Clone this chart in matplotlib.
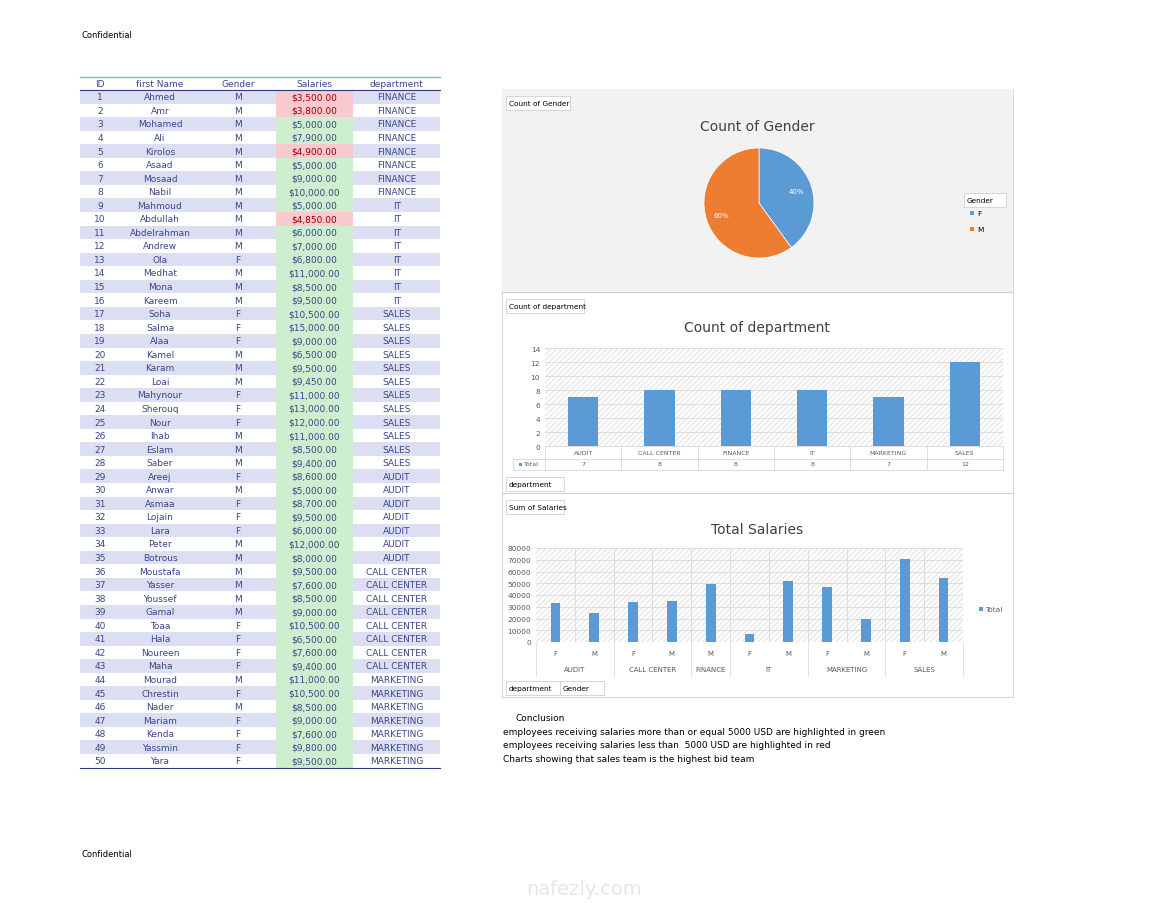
import numpy as np
import matplotlib
matplotlib.use("Agg")
import matplotlib.pyplot as plt
from matplotlib.patches import Rectangle

W, H = 1170, 904

names = ["Ahmed", "Amr", "Mohamed", "Ali", "Kirolos", "Asaad", "Mosaad", "Nabil", "Mahmoud", "Abdullah",
         "Abdelrahman", "Andrew", "Ola", "Medhat", "Mona", "Kareem", "Soha", "Salma", "Alaa", "Kamel",
         "Karam", "Loai", "Mahynour", "Sherouq", "Nour", "Ihab", "Eslam", "Saber", "Areej", "Anwar",
         "Asmaa", "Lojain", "Lara", "Peter", "Botrous", "Moustafa", "Yasser", "Youssef", "Gamal", "Toaa",
         "Hala", "Noureen", "Maha", "Mourad", "Chrestin", "Nader", "Mariam", "Kenda", "Yassmin", "Yara"]
genders = list("MMMMMMMMMMMMFMMMFFFMMMFFFMMMFMFFFMMMMMMFFFFMFMFFFF")
salaries = [3500, 3800, 5000, 7900, 4900, 5000, 9000, 10000, 5000, 4850,
            6000, 7000, 6800, 11000, 8500, 9500, 10500, 15000, 9000, 6500,
            9500, 9450, 11000, 13000, 12000, 11000, 8500, 9400, 8600, 5000,
            8700, 9500, 6000, 12000, 8000, 9500, 7600, 8500, 9000, 10500,
            6500, 7600, 9400, 11000, 10500, 8500, 9000, 7600, 9800, 9500]
departments = ["FINANCE"] * 8 + ["IT"] * 8 + ["SALES"] * 12 + ["AUDIT"] * 7 + ["CALL CENTER"] * 8 + ["MARKETING"] * 7

dept_names = ["AUDIT", "CALL CENTER", "FINANCE", "IT", "MARKETING", "SALES"]
dept_counts = [7, 8, 8, 8, 7, 12]

# sum of salaries by department / gender (pivot)
pivot = []
for d in dept_names:
    for g in ["F", "M"]:
        s = sum(v for v, dd, gg in zip(salaries, departments, genders) if dd == d and gg == g)
        if s > 0:
            pivot.append((d, g, s))

gender_counts = [genders.count("F"), genders.count("M")]

blue = "#5B9BD5"
orange = "#ED7D31"
navy = "#3A4788"

fig = plt.figure(figsize=(W / 100, H / 100), dpi=100)
fig.patch.set_facecolor("white")

page = fig.add_axes([0, 0, 1, 1])
page.set_xlim(0, W)
page.set_ylim(H, 0)
page.axis("off")

page.text(82, 35, "Confidential", fontsize=6, va="center")
page.text(82, 855, "Confidential", fontsize=6, va="center")

# ---- table ----
cols = [(80, 120), (120, 200), (200, 276), (276, 353), (353, 440)]
headers = ["ID", "first Name", "Gender", "Salaries", "department"]
top = 77.5
rh = 13.55
for (a, b), h in zip(cols, headers):
    page.text((a + b) / 2, top + rh / 2, h, fontsize=6.5, color=navy, ha="center", va="center")
page.plot([80, 440], [top, top], color="#8EA9DB", lw=1)
page.plot([80, 440], [top + rh, top + rh], color="#2E3B7C", lw=0.8)
for i in range(50):
    y0 = top + rh * (i + 1)
    if i % 2 == 0:
        page.add_patch(Rectangle((80, y0), 360, rh, color="#DCDFF2", lw=0))
    c = "#F8C9CF" if salaries[i] < 5000 else "#CDEFCF"
    page.add_patch(Rectangle((276, y0), 77, rh, color=c, lw=0))
    ym = y0 + rh / 2
    txt_col = "#9C0006" if salaries[i] < 5000 else navy
    page.text(100, ym, str(i + 1), fontsize=6.5, color=navy, ha="center", va="center")
    page.text(160, ym, names[i], fontsize=6.5, color=navy, ha="center", va="center")
    page.text(238, ym, genders[i], fontsize=6.5, color=navy, ha="center", va="center")
    page.text(314, ym, "${:,.2f}".format(salaries[i]), fontsize=6.5, color=txt_col, ha="center", va="center")
    page.text(397, ym, departments[i], fontsize=6.5, color=navy, ha="center", va="center")
page.plot([80, 440], [top + rh * 51, top + rh * 51], color="#2E3B7C", lw=0.8)

# ---- chart panels ----
page.add_patch(Rectangle((502, 90), 511, 608, fill=False, ec="#D9D9D9", lw=0.8))
page.add_patch(Rectangle((502, 90), 511, 203, color="#F2F2F2", lw=0))
page.plot([502, 1013], [293, 293], color="#D0D0D0", lw=0.8)
page.plot([502, 1013], [494, 494], color="#D0D0D0", lw=0.8)


def box_label(x, y, w, s):
    page.add_patch(Rectangle((x, y - 7), w, 14, fc="white", ec="#D0D0D0", lw=0.6))
    page.text(x + 3, y, s, fontsize=5.3, va="center")


box_label(506, 104, 64, "Count of Gender")
box_label(506, 307, 78, "Count of department")
box_label(506, 485, 58, "department")
box_label(506, 508, 58, "Sum of Salaries")
box_label(506, 689, 54, "department")
box_label(560, 689, 44, "Gender")

page.text(757, 127, "Count of Gender", fontsize=10, color="#404040", ha="center", va="center")
page.text(757, 328, "Count of department", fontsize=10, color="#404040", ha="center", va="center")
page.text(757, 530, "Total Salaries", fontsize=10, color="#404040", ha="center", va="center")

# legend pie
box_label(964, 201, 42, "Gender")
page.add_patch(Rectangle((970, 212), 4, 4, color=blue, lw=0))
page.text(977, 214, "F", fontsize=5.3, va="center")
page.add_patch(Rectangle((970, 228), 4, 4, color=orange, lw=0))
page.text(977, 230, "M", fontsize=5.3, va="center")

# pie
pax = fig.add_axes([(759 - 55) / W, 1 - (204 + 55) / H, 110 / W, 110 / H])
pax.pie(gender_counts, colors=[blue, orange], startangle=90, counterclock=False, radius=1.0,
        autopct="%1.0f%%", pctdistance=0.72, textprops=dict(color="white", fontsize=5),
        wedgeprops=dict(edgecolor="white", linewidth=0.5))
pax.set_xlim(-1, 1)
pax.set_ylim(-1, 1)
pax.set_aspect("equal")


def hatch_bg(ax):
    ax.set_facecolor("white")
    ax.add_patch(Rectangle((0, 0), 1, 1, transform=ax.transAxes, fill=False, hatch="//////",
                           ec="#E8E8E8", lw=0, zorder=0))


# bar chart 1
b1 = fig.add_axes([545 / W, 1 - 447 / H, (1003 - 545) / W, (447 - 349) / H])
hatch_bg(b1)
x1 = np.arange(len(dept_names))
b1.bar(x1, dept_counts, width=0.4, color=blue, zorder=3)
b1.set_xlim(-0.5, len(dept_names) - 0.5)
b1.set_ylim(0, 14)
b1.set_yticks(range(0, 15, 2))
b1.set_xticks([])
b1.grid(axis="y", color="#D9D9D9", lw=0.6, zorder=1)
for s in b1.spines.values():
    s.set_visible(False)
b1.tick_params(axis="y", labelsize=5.3, length=0, labelcolor="#595959")
cw = (1003 - 545) / 6
for i, (d, c) in enumerate(zip(dept_names, dept_counts)):
    xc = 545 + cw * (i + 0.5)
    page.text(xc, 454, d, fontsize=4.5, color="#595959", ha="center", va="center")
    page.text(xc, 465, str(c), fontsize=4.5, color="#595959", ha="center", va="center")
for k in range(7):
    page.plot([545 + cw * k] * 2, [447, 471], color="#D0D0D0", lw=0.5)
page.plot([513, 1003], [460, 460], color="#D0D0D0", lw=0.5)
page.plot([513, 1003], [471, 471], color="#D0D0D0", lw=0.5)
page.plot([545, 1003], [447, 447], color="#D0D0D0", lw=0.5)
page.plot([513, 513], [460, 471], color="#D0D0D0", lw=0.5)
page.add_patch(Rectangle((519, 463.5), 3, 3, color=blue, lw=0))
page.text(524, 465, "Total", fontsize=4.5, color="#595959", va="center")

# bar chart 2
b2 = fig.add_axes([536 / W, 1 - 643 / H, (963 - 536) / W, (643 - 549) / H])
hatch_bg(b2)
x2 = np.arange(len(pivot))
b2.bar(x2, [p[2] for p in pivot], width=0.25, color=blue, zorder=3)
b2.set_xlim(-0.5, len(pivot) - 0.5)
b2.set_ylim(0, 80000)
b2.set_yticks(range(0, 80001, 10000))
b2.set_xticks([])
b2.grid(axis="y", color="#D9D9D9", lw=0.6, zorder=1)
for k in range(1, len(pivot)):
    b2.axvline(k - 0.5, color="#D9D9D9", lw=0.6, zorder=1)
for s in b2.spines.values():
    s.set_visible(False)
b2.tick_params(axis="y", labelsize=5.3, length=0, labelcolor="#595959")
pw = (963 - 536) / len(pivot)
for i, (d, g, s) in enumerate(pivot):
    page.text(536 + pw * (i + 0.5), 654, g, fontsize=5, color="#595959", ha="center", va="center")
start = 0
for d in dept_names:
    n = sum(1 for p in pivot if p[0] == d)
    page.text(536 + pw * (start + n / 2), 670, d, fontsize=5, color="#595959", ha="center", va="center")
    page.plot([536 + pw * start] * 2, [643, 677], color="#D9D9D9", lw=0.5)
    start += n
page.plot([963, 963], [643, 677], color="#D9D9D9", lw=0.5)
page.add_patch(Rectangle((979, 608), 4, 4, color=blue, lw=0))
page.text(985, 610, "Total", fontsize=5.3, color="#595959", va="center")

# conclusion
page.text(516, 719, "Conclusion", fontsize=6.5, va="center")
page.text(503, 733, "employees receiving salaries more than or equal 5000 USD are highlighted in green", fontsize=6.5, va="center")
page.text(503, 746, "employees receiving salaries less than  5000 USD are highlighted in red", fontsize=6.5, va="center")
page.text(503, 760, "Charts showing that sales team is the highest bid team", fontsize=6.5, va="center")

page.text(584, 890, "nafezly.com", fontsize=14, color="#E6E6E6", ha="center", va="center")

fig.savefig("out.png", dpi=100, facecolor="white")
